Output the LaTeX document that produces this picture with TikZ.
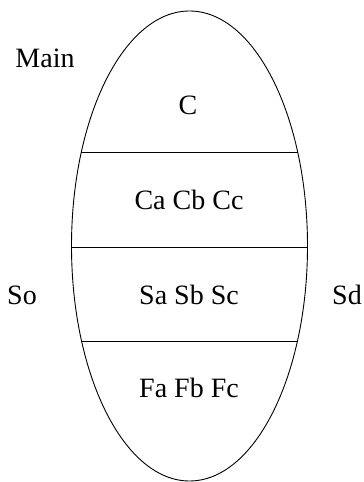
\documentclass[tikz,border=0pt]{standalone}
\usepackage{fontspec}
\setmainfont{Liberation Serif}
\usetikzlibrary{shapes.geometric,calc}
\begin{document}
\begin{tikzpicture}[x=1pt,y=1pt,
  lbl/.style={inner sep=0pt,font=\fontsize{28}{33}\selectfont},
  outline/.style={draw,line width=0.9pt}]
\useasboundingbox (0,0) rectangle (364,482);
\node[outline,ellipse,minimum width=236pt,minimum height=470pt,inner sep=0pt] (egg) at (189.5,236) {};
\coordinate (l1a) at ($(egg.center)+(-108.1,94)$);
\coordinate (l1b) at ($(egg.center)+(108.1,94)$);
\coordinate (l2a) at ($(egg.center)+(-118,-1)$);
\coordinate (l2b) at ($(egg.center)+(118,-1)$);
\coordinate (l3a) at ($(egg.center)+(-107.9,-95)$);
\coordinate (l3b) at ($(egg.center)+(107.9,-95)$);
\draw[outline] (l1a) -- (l1b);
\draw[outline] (l2a) -- (l2b);
\draw[outline] (l3a) -- (l3b);
\node[lbl] (main) at (45,424) {Main};
\node[lbl] (c) at (188,377) {C};
\node[lbl] (ca) at (189,282) {Ca Cb Cc};
\node[lbl] (sa) at (189,187) {Sa Sb Sc};
\node[lbl] (fa) at (189,94) {Fa Fb Fc};
\node[lbl] (so) at (22,187) {So};
\node[lbl] (sd) at (347,187) {Sd};
\end{tikzpicture}
\end{document}
